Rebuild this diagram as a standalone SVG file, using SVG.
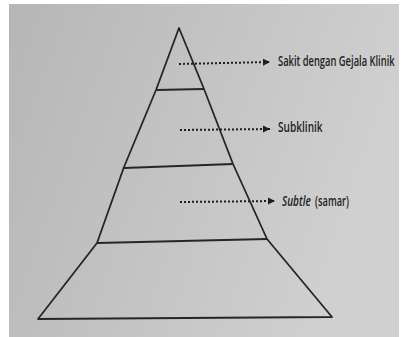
<svg xmlns="http://www.w3.org/2000/svg" width="403" height="337" viewBox="0 0 403 337">
<defs>
<linearGradient id="bg" x1="0" y1="0" x2="1" y2="0.3">
<stop offset="0" stop-color="#b6b6b6"/>
<stop offset="1" stop-color="#d0d0d0"/>
</linearGradient>
<marker id="ah" markerWidth="8" markerHeight="8" refX="7" refY="4" orient="auto" markerUnits="userSpaceOnUse">
<path d="M0,0.5 L7,4 L0,7.5 Z" fill="#1e1e1e"/>
</marker>
<style>
.edge{fill:none;stroke:#262626;stroke-width:1.8;stroke-linejoin:round}
.tier{stroke:#262626;stroke-width:2}
.dot{stroke:#1e1e1e;stroke-width:2;stroke-dasharray:2 2}
.lbl{font-family:"Open Sans","Liberation Sans",sans-serif;font-size:13.5px;font-weight:600;fill:#222222}
</style>
</defs>
<rect x="0" y="0" width="403" height="337" fill="#ffffff"/>
<rect x="9" y="4" width="390" height="333" fill="url(#bg)"/>
<g id="pyramid">
<polygon class="edge" points="179,28 204,89 233,164 267,239 332,317 38,319 97,243 124,167 156,90"/>
</g>
<g id="tiers">
<line class="tier" x1="156" y1="90" x2="204" y2="89"/>
<line class="tier" x1="124" y1="168" x2="233" y2="164"/>
<line class="tier" x1="97" y1="243" x2="267" y2="239"/>
</g>
<g id="connectors">
<line class="dot" x1="179" y1="64" x2="270" y2="62" marker-end="url(#ah)"/>
<line class="dot" x1="180" y1="130" x2="270" y2="129" marker-end="url(#ah)"/>
<line class="dot" x1="180" y1="202" x2="275" y2="201" marker-end="url(#ah)"/>
</g>
<g id="label-sakit" transform="translate(278,66) scale(0.72,1)">
<text class="lbl" x="0" y="0" textLength="162" lengthAdjust="spacingAndGlyphs">Sakit dengan Gejala Klinik</text>
</g>
<g id="label-subklinik" transform="translate(278,132) scale(0.72,1)">
<text class="lbl" x="0" y="0" textLength="62" lengthAdjust="spacingAndGlyphs">Subklinik</text>
</g>
<g id="label-subtle" transform="translate(282,206) scale(0.72,1)">
<text class="lbl" x="0" y="0" font-style="italic" textLength="40" lengthAdjust="spacingAndGlyphs">Subtle</text>
<text class="lbl" x="46" y="0" textLength="47" lengthAdjust="spacingAndGlyphs">(samar)</text>
</g>
</svg>
